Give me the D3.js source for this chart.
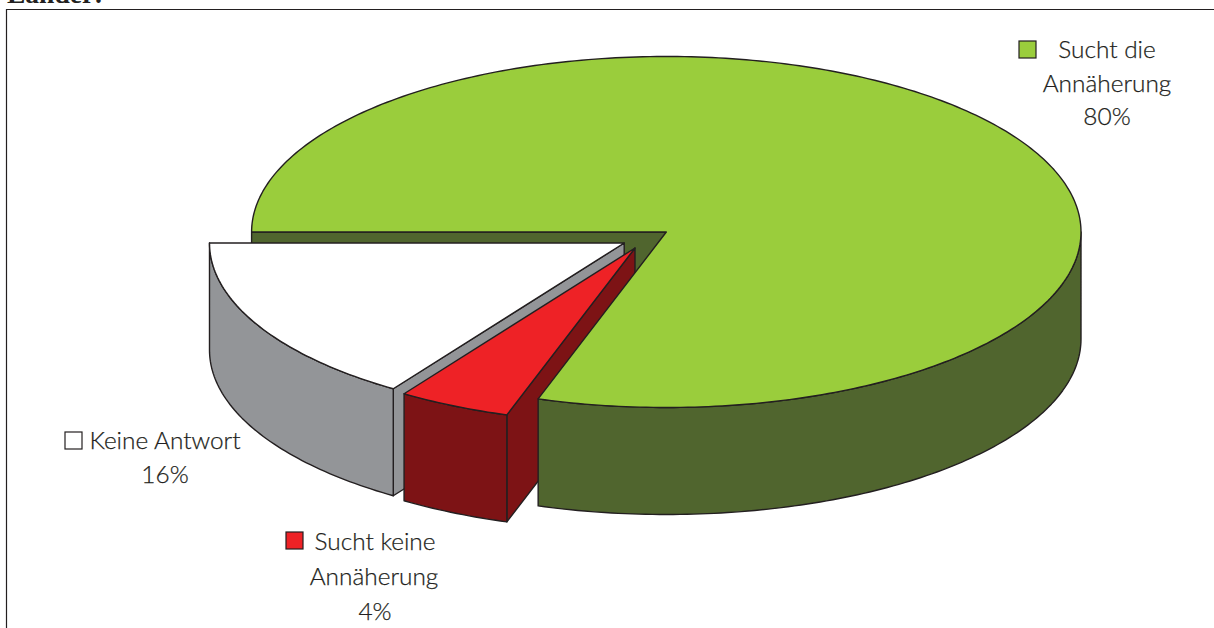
<!DOCTYPE html>
<html><head><meta charset="utf-8">
<script src="https://cdn.jsdelivr.net/npm/d3@7"></script>
<style>html,body{margin:0;padding:0;background:#fff;overflow:hidden}svg{display:block}
text{font-family:Lato,sans-serif;font-weight:300;font-size:24.4px;fill:#231f20;stroke:#231f20;stroke-width:.25;text-anchor:middle}
</style></head><body><svg id="c" width="1214" height="628"></svg>
<script>
const categories=["Sucht die Annäherung","Sucht keine Annäherung","Keine Antwort"];
const values=[80,4.4,15.6];
const valueLabels=["80%","4%","16%"];
const topColors=["#9acd3c","#ee2226","#ffffff"];
const wallColors=["#50652e","#7d1315","#939598"];
const svg=d3.select("#c");
const stroke="#231f20",sw=1.4;
const rx=414.7,ry=175.5,depth=107;
const centers=[[666.3,232],[635,248],[624.2,243]];
const arcs=d3.pie().sort(null).startAngle(-Math.PI/2).endAngle(3*Math.PI/2)(values);
const sx=d3.scaleLinear().domain([-1,1]).range([-rx,rx]);
const sy=d3.scaleLinear().domain([-1,1]).range([ry,-ry]);
function pt(i,a,dz=0){return [centers[i][0]+sx(Math.sin(a)),centers[i][1]+sy(Math.cos(a))+dz];}
function arcPts(i,a0,a1,dz=0){const n=Math.max(2,Math.ceil(Math.abs(a1-a0)*60)),o=[];
  for(let k=0;k<=n;k++)o.push(pt(i,a0+(a1-a0)*k/n,dz));return o;}
const line=d3.line();
function poly(pts,fill){svg.append("path").attr("d",line(pts)+"Z").attr("fill",fill).attr("stroke",stroke).attr("stroke-width",sw).attr("stroke-linejoin","round");}
function apex(i,dz=0){return [centers[i][0],centers[i][1]+dz];}
function radialWall(i,a,fill){poly([apex(i),pt(i,a),pt(i,a,depth),apex(i,depth)],fill);}
function outerWall(i,a0,a1,fill){poly([...arcPts(i,a0,a1),...arcPts(i,a1,a0,depth)],fill);}
function topFace(i,a0,a1,fill){poly([apex(i),...arcPts(i,a0,a1)],fill);}

const G=arcs[0],R=arcs[1],W=arcs[2];
// frame
svg.append("path").attr("d","M6.5,628V9.5H1214").attr("fill","none").attr("stroke",stroke).attr("stroke-width",1.2);
svg.append("text").attr("x",7).attr("y",2.5).attr("style","text-anchor:start;font-family:'Liberation Serif';font-weight:bold;font-size:27.5px;stroke:none").text("Länder:");
// back cut of green
radialWall(0,G.startAngle,wallColors[0]);
// white slice
radialWall(2,W.startAngle,wallColors[2]);
outerWall(2,W.startAngle,W.endAngle,wallColors[2]);
topFace(2,W.startAngle,W.endAngle,topColors[2]);
// red slice
radialWall(1,R.startAngle,wallColors[1]);
outerWall(1,R.startAngle,R.endAngle,wallColors[1]);
topFace(1,R.startAngle,R.endAngle,topColors[1]);
// green slice front
outerWall(0,Math.PI/2,G.endAngle,wallColors[0]);
topFace(0,G.startAngle,G.endAngle,topColors[0]);

// labels
const labelLayout=[
 {i:0,box:[1019,41],lines:[["Sucht die",1107,58],["Annäherung",1107,92],[valueLabels[0],1107,125]]},
 {i:1,box:[286,532],lines:[["Sucht keine",375,550],["Annäherung",374,585],[valueLabels[1],375,620]]},
 {i:2,box:[65,432],lines:[["Keine Antwort",165,449],[valueLabels[2],165,483]]}];
labelLayout.forEach(l=>{
 svg.append("rect").attr("x",l.box[0]).attr("y",l.box[1]).attr("width",17).attr("height",17).attr("fill",topColors[l.i]).attr("stroke",stroke).attr("stroke-width",1.2);
 l.lines.forEach(t=>svg.append("text").attr("x",t[1]).attr("y",t[2]).text(t[0]));
});
</script></body></html>
